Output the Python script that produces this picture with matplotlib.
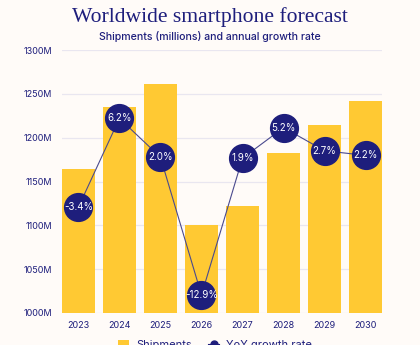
import matplotlib.pyplot as plt
from matplotlib.lines import Line2D
from matplotlib.patches import Patch

years = ["2023", "2024", "2025", "2026", "2027", "2028", "2029", "2030"]
shipments = [1164, 1235, 1261, 1100, 1122, 1182, 1214, 1242]
growth = [-3.4, 6.2, 2.0, -12.9, 1.9, 5.2, 2.7, 2.2]
y_ticks = [1000, 1050, 1100, 1150, 1200, 1250, 1300]

BG = "#FFFBF8"
NAVY = "#1E1E7C"
YELLOW = "#FFC933"
GRID = "#E9E6F0"

plt.rcParams["font.family"] = ["Inter", "DejaVu Sans"]

fig = plt.figure(figsize=(4.2, 3.45), dpi=100, facecolor=BG)
ax = fig.add_axes([62 / 420, 1 - 313 / 345, 320 / 420, 263 / 345])
ax.set_facecolor(BG)

x = list(range(len(years)))
ax.bar(x, shipments, width=0.8, color=YELLOW, zorder=2)
ax.set_ylim(1000, 1300)
ax.set_xlim(-0.4, len(years) - 0.6)
ax.set_yticks(y_ticks)
ax.set_yticklabels([f"{v}M" for v in y_ticks])
ax.set_xticks(x)
ax.set_xticklabels(years)
ax.tick_params(axis="both", length=0, labelsize=6.5, labelcolor=NAVY)
ax.tick_params(axis="y", pad=7)
ax.tick_params(axis="x", pad=6)
ax.grid(axis="y", color=GRID, linewidth=0.9, zorder=0)
ax.set_axisbelow(True)
for s in ax.spines.values():
    s.set_visible(False)

# growth rate on its own hidden scale
ax2 = ax.twinx()
ax2.set_ylim(-14.85, 13.6)
ax2.plot(x, growth, color="#4A4A8E", linewidth=0.8, zorder=3)
ax2.plot(x, growth, linestyle="none", marker="o", markersize=20,
         markerfacecolor=NAVY, markeredgecolor=NAVY, zorder=4)
for xi, g in zip(x, growth):
    ax2.text(xi, g, f"{g:.1f}%", color="white", fontsize=7,
             ha="center", va="center", zorder=5)
ax2.set_yticks([])
for s in ax2.spines.values():
    s.set_visible(False)

fig.text(0.5, 1 - 17 / 345, "Worldwide smartphone forecast", ha="center",
         va="center", fontsize=15.6, color=NAVY, family="Liberation Serif")
fig.text(0.5, 1 - 37 / 345, "Shipments (millions) and annual growth rate",
         ha="center", va="center", fontsize=7.6, color=NAVY, fontweight="medium")

handles = [
    Patch(facecolor=YELLOW, edgecolor="none", label="Shipments"),
    Line2D([0], [0], color=NAVY, linewidth=0.8, marker="o", markersize=5,
           label="YoY growth rate"),
]
fig.legend(handles=handles, loc="center", bbox_to_anchor=(215 / 420, 1 - 345 / 345),
           ncol=2, frameon=False, fontsize=8, labelcolor=NAVY,
           handlelength=1.0, handleheight=1.0, columnspacing=1.5,
           handletextpad=0.6)

fig.savefig("out.png", dpi=100, facecolor=BG)
